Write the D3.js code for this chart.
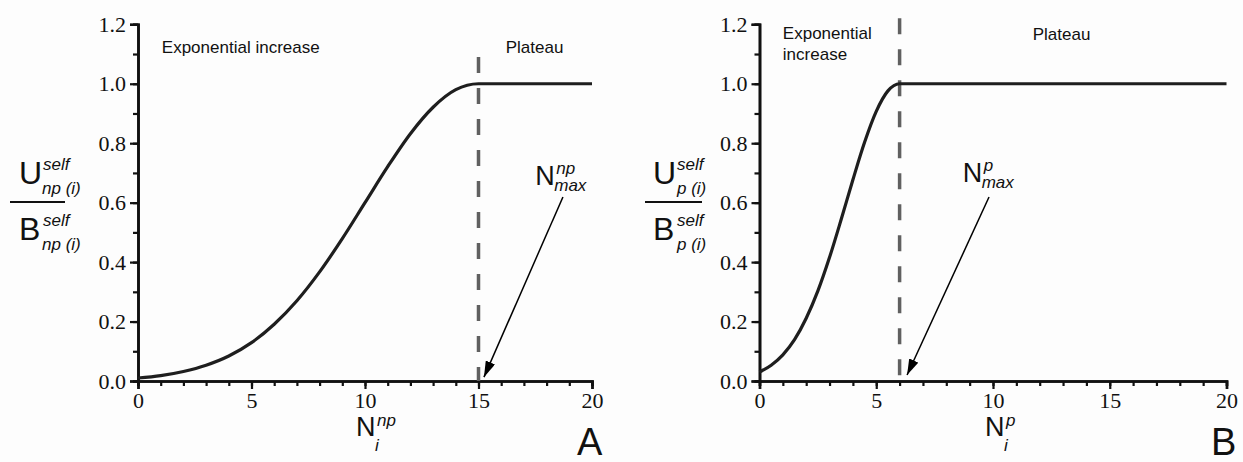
<!DOCTYPE html>
<html>
<head>
<meta charset="utf-8">
<script src="https://cdn.jsdelivr.net/npm/d3@7"></script>
<style>
  html, body { margin: 0; padding: 0; background: #fdfdfd; }
  svg { display: block; }
  svg text.num { font-family: "Liberation Serif", "Times New Roman", Times, "DejaVu Serif", serif; font-size: 22px; }
</style>
</head>
<body>
<svg id="chart" width="1243" height="462"></svg>
<script>
// Normalised self-uptake U/B versus number of items N, panel A (np) and panel B (p)
const xA = [0, 1, 2, 3, 4, 5, 6, 7, 8, 9, 10, 11, 12, 13, 14, 15, 20];
const yA = [0.010, 0.018, 0.032, 0.053, 0.084, 0.129, 0.191, 0.270, 0.367, 0.479, 0.600, 0.721, 0.832, 0.921, 0.980, 1.000, 1.000];

const xB = [0, 0.5, 1, 1.5, 2, 2.5, 3, 3.5, 4, 4.5, 5, 5.5, 6, 20];
const yB = [0.030, 0.053, 0.088, 0.139, 0.211, 0.303, 0.416, 0.544, 0.677, 0.803, 0.907, 0.976, 1.000, 1.000];

// N_max for each panel
const nMax = [15, 6];

// axis ticks
const xMajorTicks = [0, 5, 10, 15, 20];
const xMinorTicks = d3.range(0, 21, 1);
const yMajorTicks = [0, 0.2, 0.4, 0.6, 0.8, 1.0, 1.2];
const yMinorTicks = d3.range(0, 13).map(i => i / 10);
const yTickLabels = ["0.0", "0.2", "0.4", "0.6", "0.8", "1.0", "1.2"];

// region labels
const regionLabelsA = [["Exponential increase"], ["Plateau"]];
const regionLabelsB = [["Exponential", "increase"], ["Plateau"]];

const SERIF = "Liberation Serif, Times New Roman, Times, DejaVu Serif, serif";
const SANS = "Liberation Sans, Arial, sans-serif";

const svg = d3.select("#chart");

const panels = [
  {
    xs: xA, ys: yA, nmax: nMax[0], left: 138, right: 592,
    dashTop: 1.09, sup: "np", letter: "A",
    arrowFrom: [18.72, 0.619], arrowTo: [15.24, 0.013],
    regions: regionLabelsA, regionX: [1.05, 16.2], regionY: [1.104, 1.104],
    ylab: { ux: 19, subx: 42, lineX: [10, 65], sub: "np (i)" },
    nmaxLab: [17.5, 0.66], xlabX: 356, letterX: 577
  },
  {
    xs: xB, ys: yB, nmax: nMax[1], left: 759.5, right: 1226.5,
    dashTop: 1.22, sup: "p", letter: "B",
    arrowFrom: [9.83, 0.619], arrowTo: [6.32, 0.02],
    regions: regionLabelsB, regionX: [1.0, 11.7], regionY: [1.152, 1.148],
    ylab: { ux: 653, subx: 677, lineX: [645, 702], sub: "p (i)" },
    nmaxLab: [8.7, 0.67], xlabX: 985, letterX: 1211
  }
];

const yTop = 24.3, yBottom = 381;

const defs = svg.append("defs");
defs.append("marker")
  .attr("id", "arrowhead")
  .attr("viewBox", "0 0 16 10")
  .attr("refX", 16).attr("refY", 5)
  .attr("markerWidth", 16).attr("markerHeight", 10)
  .attr("markerUnits", "userSpaceOnUse")
  .attr("orient", "auto")
  .append("path")
  .attr("d", "M0,0 L16,5 L0,10 Z")
  .attr("fill", "#000");

function sansText(g, x, y, size, s, italic) {
  return g.append("text")
    .attr("font-family", SANS).attr("font-size", size)
    .attr("font-style", italic ? "italic" : "normal")
    .attr("fill", "#111").attr("x", x).attr("y", y).text(s);
}

panels.forEach(p => {
  const x = d3.scaleLinear().domain([0, 20]).range([p.left, p.right]);
  const y = d3.scaleLinear().domain([0, 1.2]).range([yBottom, yTop]);
  const g = svg.append("g");

  // minor ticks
  const xMinor = g.append("g").attr("transform", `translate(0,${yBottom})`)
    .call(d3.axisBottom(x).tickValues(xMinorTicks).tickSize(5).tickFormat(""));
  const yMinor = g.append("g").attr("transform", `translate(${p.left},0)`)
    .call(d3.axisLeft(y).tickValues(yMinorTicks).tickSize(5).tickFormat(""));

  // major ticks with labels
  const xAxis = g.append("g").attr("transform", `translate(0,${yBottom})`)
    .call(d3.axisBottom(x).tickValues(xMajorTicks).tickSize(8).tickPadding(3).tickFormat(d3.format("d")));
  const yAxis = g.append("g").attr("transform", `translate(${p.left},0)`)
    .call(d3.axisLeft(y).tickValues(yMajorTicks).tickSize(8).tickPadding(4)
      .tickFormat((d, i) => yTickLabels[i]));

  [xMinor, yMinor, xAxis, yAxis].forEach(a => {
    a.selectAll("path.domain").attr("stroke", "#111").attr("stroke-width", 2.6);
    a.selectAll(".tick line").attr("stroke", "#111").attr("stroke-width", 2.2);
  });
  [xAxis, yAxis].forEach(a => {
    a.attr("font-family", SERIF).attr("font-size", 22);
    a.selectAll(".tick text")
      .classed("num", true)
      .attr("font-family", SERIF).attr("font-size", 22)
      .attr("fill", "#111");
  });

  // N_max dashed marker
  g.append("line")
    .attr("x1", x(p.nmax)).attr("x2", x(p.nmax))
    .attr("y1", y(p.dashTop)).attr("y2", y(0))
    .attr("stroke", "#606060").attr("stroke-width", 3.5)
    .attr("stroke-dasharray", "16,15");

  // curve
  const line = d3.line()
    .x((d, i) => x(p.xs[i]))
    .y(d => y(d))
    .curve(d3.curveMonotoneX);
  g.append("path")
    .datum(p.ys)
    .attr("d", line)
    .attr("fill", "none")
    .attr("stroke", "#1e1e1e")
    .attr("stroke-width", 3.2)
    .attr("stroke-linejoin", "round");

  // arrow pointing at N_max
  g.append("line")
    .attr("x1", x(p.arrowFrom[0])).attr("y1", y(p.arrowFrom[1]))
    .attr("x2", x(p.arrowTo[0])).attr("y2", y(p.arrowTo[1]))
    .attr("stroke", "#000").attr("stroke-width", 1.5)
    .attr("marker-end", "url(#arrowhead)");

  // region labels
  p.regions.forEach((lines, k) => {
    lines.forEach((s, j) => {
      sansText(g, x(p.regionX[k]), y(p.regionY[k]) + j * 21, 17, s, false);
    });
  });

  // N_max label
  const nx = x(p.nmaxLab[0]), ny = y(p.nmaxLab[1]);
  sansText(g, nx, ny, 27, "N", false);
  sansText(g, nx + 21, ny - 11, 17, p.sup, true);
  sansText(g, nx + 19, ny + 6, 17, "max", true);

  // x-axis title N_i^sup
  const xl = p.xlabX, xb = 436;
  sansText(g, xl, xb, 27, "N", false);
  sansText(g, xl + 21, xb - 10, 17, p.sup, true);
  sansText(g, xl + 19, xb + 15, 17, "i", true);

  // y-axis title: fraction U / B
  const yl = p.ylab;
  sansText(g, yl.ux, 184, 32, "U", false);
  sansText(g, yl.ux + 24, 170, 17, "self", true);
  sansText(g, yl.subx, 194, 17, yl.sub, true);
  g.append("line")
    .attr("x1", yl.lineX[0]).attr("x2", yl.lineX[1])
    .attr("y1", 202).attr("y2", 202)
    .attr("stroke", "#111").attr("stroke-width", 2.2);
  sansText(g, yl.ux, 240, 32, "B", false);
  sansText(g, yl.ux + 24, 226, 17, "self", true);
  sansText(g, yl.subx, 250, 17, yl.sub, true);

  // panel letter
  sansText(g, p.letterX, 455, 38, p.letter, false);
});
</script>
</body>
</html>
